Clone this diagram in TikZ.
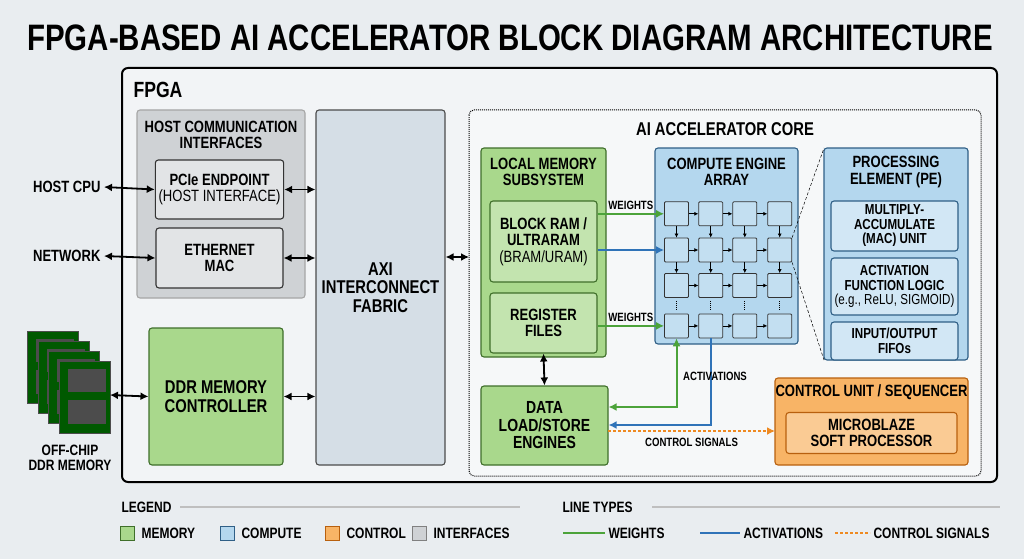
\documentclass[tikz,border=0pt]{standalone}
\usepackage{fontspec}
\setmainfont{Liberation Sans}[FakeStretch=0.8]
\usetikzlibrary{arrows.meta}
\definecolor{bg}{HTML}{E9EDF0}
\definecolor{gfill}{HTML}{A9D88C}
\definecolor{gdraw}{HTML}{3F6F2A}
\definecolor{bfill}{HTML}{B4D7EE}
\definecolor{bdraw}{HTML}{2F5F86}
\definecolor{ofill}{HTML}{F8B466}
\definecolor{odraw}{HTML}{B8600E}
\definecolor{gyfill}{HTML}{CFD2D5}
\definecolor{axifill}{HTML}{D5DEE6}
\definecolor{wgreen}{HTML}{4CA33A}
\definecolor{ablue}{HTML}{2F73B8}
\definecolor{corange}{HTML}{EE8A22}
\newcommand{\fs}[1]{\bfseries\fontsize{#1}{#1}\selectfont}
\tikzset{
 box/.style={draw=#1,rounded corners=3pt,line width=1.1pt},
 lbl/.style={font=\fs{16.3},align=center,text=black},
 sm/.style={font=\fs{12},text=black},
 leg/.style={font=\fs{15},text=black},
 dbl/.style={{Latex[length=8pt,width=8pt]}-{Latex[length=8pt,width=8pt]},line width=1.8pt},
 cell/.style={draw=black!80,fill=bfill!80,line width=0.8pt,minimum size=24pt,inner sep=0,rounded corners=1pt},
 sarr/.style={-{Latex[length=4pt,width=4pt]},line width=0.7pt},
 warr/.style={-{Latex[length=8pt,width=8pt]},line width=2pt,wgreen},
 aarr/.style={-{Latex[length=8pt,width=8pt]},line width=2pt,ablue},
}
\begin{document}
\begin{tikzpicture}[x=1pt,y=-1pt]
\useasboundingbox (0,0) rectangle (1024,559);
\fill[bg] (0,0) rectangle (1024,559);
\node[font=\fs{36.8}] (title) at (510,38) {FPGA-BASED AI ACCELERATOR BLOCK DIAGRAM ARCHITECTURE};
% FPGA
\draw[line width=2pt,rounded corners=6pt,fill=white!40!bg] (122,68) rectangle (997,482);
\node[font=\fs{22},anchor=west] (fpga) at (130,90) {FPGA};
% host comm
\draw[box=gray!70,fill=gyfill] (137,110) rectangle (305,298);
\node[lbl] (hct) at (221,135) {HOST COMMUNICATION\\INTERFACES};
\node[box=black!80,fill=gyfill!60!white,lbl,minimum width=127pt,minimum height=59pt] (pcie) at (219.5,189.5) {PCIe ENDPOINT\\{\mdseries (HOST INTERFACE)}};
\node[box=black!80,fill=gyfill!60!white,lbl,minimum width=127pt,minimum height=60pt] (eth) at (219.5,258) {ETHERNET\\MAC};
\node[lbl,anchor=east] (cpu) at (104,187) {HOST CPU};
\node[lbl,anchor=east] (net) at (104,256) {NETWORK};
% AXI
\node[box=black!70,fill=axifill,lbl,minimum width=129pt,minimum height=355pt,font=\fs{18.5}] (axi) at (380.5,287.5) {AXI\\INTERCONNECT\\FABRIC};
% DDR ctrl
\node[box=gdraw,fill=gfill,lbl,minimum width=134pt,minimum height=137pt,font=\fs{18.5}] (ddrc) at (216,396.5) {DDR MEMORY\\CONTROLLER};
% DDR sticks
\foreach \i in {0,1,2,3}{
 \begin{scope}[shift={(10.7*\i,10*\i)}]
 \fill[green!35!black,draw=black!70] (27,331) rectangle (78,403);
 \fill[black!70] (36,339) rectangle (74,362);
 \fill[black!70] (36,370) rectangle (74,394);
 \end{scope}}
\coordinate (ddrm) at (110,395);
\node[lbl,font=\fs{15}] (ddrl) at (70,458) {OFF-CHIP\\DDR MEMORY};
\draw[dbl] (cpu.east) -- (pcie.west);
\draw[dbl] (net.east) -- (eth.west);
\draw[dbl] (ddrm) -- (ddrc.west);
\draw[dbl] (pcie.east) -- (pcie.east-|axi.west);
\draw[dbl] (eth.east) -- (eth.east-|axi.west);
\draw[dbl] (ddrc.east) -- (ddrc.east-|axi.west);
% AI core
\draw[densely dotted,line width=1pt,rounded corners=5pt,fill=white!60!bg] (469,110) rectangle (981,476);
\node[lbl,font=\fs{18.5}] (core) at (725,129) {AI ACCELERATOR CORE};
\coordinate (corel) at (469,257);
\draw[dbl] (axi.east|-corel) -- (corel);
% local mem
\draw[box=gdraw,fill=gfill] (481,148) rectangle (606,357);
\node[lbl] (lmt) at (543.5,172) {LOCAL MEMORY\\SUBSYSTEM};
\node[box=gdraw,fill=gfill!70!white,lbl,minimum width=107pt,minimum height=81pt] (bram) at (543.5,241.5) {BLOCK RAM /\\ULTRARAM\\{\mdseries (BRAM/URAM)}};
\node[box=gdraw,fill=gfill!70!white,lbl,minimum width=107pt,minimum height=60pt] (reg) at (543.5,323) {REGISTER\\FILES};
\node[box=gdraw,fill=gfill,lbl,font=\fs{17.5},minimum width=127pt,minimum height=79pt] (dls) at (544.5,425.5) {DATA\\LOAD/STORE\\ENGINES};
\draw[dbl] (reg.south) -- (dls.north);
% compute
\draw[box=bdraw,fill=bfill] (655,148) rectangle (798,344);
\node[lbl] (cet) at (726.5,172) {COMPUTE ENGINE\\ARRAY};
\foreach \c/\x in {1/676.5,2/710.7,3/744.8,4/779.7}{
 \foreach \r/\y in {1/213.8,2/250,3/285.5,4/325.9}{
  \node[cell] (c\r\c) at (\x,\y) {};}}
\foreach \r in {1,2,3,4}{
 \foreach \a/\b in {1/2,2/3,3/4}{\draw[sarr] (c\r\a) -- (c\r\b);}}
\foreach \c in {1,2,3,4}{
 \draw[sarr] (c1\c) -- (c2\c); \draw[sarr] (c2\c) -- (c3\c);
 \draw[densely dotted,line width=1pt] ([yshift=-3pt]c3\c.south) -- ([yshift=3pt]c4\c.north);}
% PE
\draw[box=bdraw,fill=bfill] (824,148) rectangle (968,360);
\draw[densely dashed,line width=0.5pt] (c24.north east) -- (824,148);
\draw[densely dashed,line width=0.5pt] (c24.south east) -- (824,360);
\node[lbl] (pet) at (896,172) {PROCESSING\\ELEMENT (PE)};
\node[box=bdraw,fill=bfill!60!white,lbl,font=\fs{14.5},minimum width=127pt,minimum height=50pt] (mac) at (894.5,226) {MULTIPLY-\\ACCUMULATE\\(MAC) UNIT};
\node[box=bdraw,fill=bfill!60!white,lbl,font=\fs{14.5},minimum width=127pt,minimum height=57pt] (act) at (894.5,286.5) {ACTIVATION\\FUNCTION LOGIC\\{\mdseries (e.g., ReLU, SIGMOID)}};
\node[box=bdraw,fill=bfill!60!white,lbl,font=\fs{14.5},minimum width=127pt,minimum height=38pt] (fifo) at (894.5,341) {INPUT/OUTPUT\\FIFOs};
% control
\draw[box=odraw,fill=ofill] (775,378) rectangle (968,465);
\node[lbl] (cut) at (871.5,392) {CONTROL UNIT / SEQUENCER};
\node[box=odraw,fill=ofill!70!white,lbl,minimum width=171pt,minimum height=41pt] (mb) at (871.5,433) {MICROBLAZE\\SOFT PROCESSOR};
% data arrows
\draw[warr] (bram.east|-c11) -- (c11.west) node[midway,above,sm] {WEIGHTS};
\draw[aarr] (bram.east|-c21) -- (c21.west);
\draw[warr] (reg.east|-c41) -- (c41.west) node[midway,above,sm] {WEIGHTS};
\coordinate (ga) at (676.5,407);
\coordinate (ba) at (710.7,425);
\draw[warr,{Latex[length=8pt,width=8pt]}-{Latex[length=8pt,width=8pt]}] (dls.east|-ga) -- (ga) -- (c41.south);
\draw[aarr] (c42.south) -- (ba) -- (dls.east|-ba);
\node[sm] (actl) at (715,376) {ACTIVATIONS};
\coordinate (cs) at (608,431);
\coordinate (ce) at (775,431);
\draw[corange,densely dashed,line width=1.5pt,-{Latex[length=8pt,width=8pt]}] (cs) -- (ce) node[midway,below=3pt,sm] {CONTROL SIGNALS};
% legend
\node[leg,anchor=west] (leg) at (118,507) {LEGEND};
\draw[gray!50,line width=1.5pt] (180,507) -- (520,507);
\node[leg,anchor=west] (lt) at (559,507) {LINE TYPES};
\draw[gray!50,line width=1.5pt] (652,507) -- (1000,507);
\foreach \n/\x/\f/\d/\t in {m/120/gfill/gdraw/MEMORY,c/220/bfill/bdraw/COMPUTE,o/325/ofill/odraw/CONTROL,i/412/gyfill/gray/INTERFACES}{
 \node[draw=\d,fill=\f,line width=1pt,minimum size=14pt,inner sep=0,anchor=west] (sq\n) at (\x,533) {};
 \node[leg,anchor=west] (tx\n) at ([xshift=3pt]sq\n.east) {\t};}
\coordinate (l1a) at (563,533); \coordinate (l1b) at (605,533);
\draw[wgreen,line width=2pt] (l1a) -- (l1b);
\node[leg,anchor=west] (l1t) at (l1b) {WEIGHTS};
\coordinate (l2a) at (700,533); \coordinate (l2b) at (740,533);
\draw[ablue,line width=2pt] (l2a) -- (l2b);
\node[leg,anchor=west] (l2t) at (l2b) {ACTIVATIONS};
\coordinate (l3a) at (835,533); \coordinate (l3b) at (870,533);
\draw[corange,densely dashed,line width=1.5pt] (l3a) -- (l3b);
\node[leg,anchor=west] (l3t) at (l3b) {CONTROL SIGNALS};
\end{tikzpicture}
\end{document}
